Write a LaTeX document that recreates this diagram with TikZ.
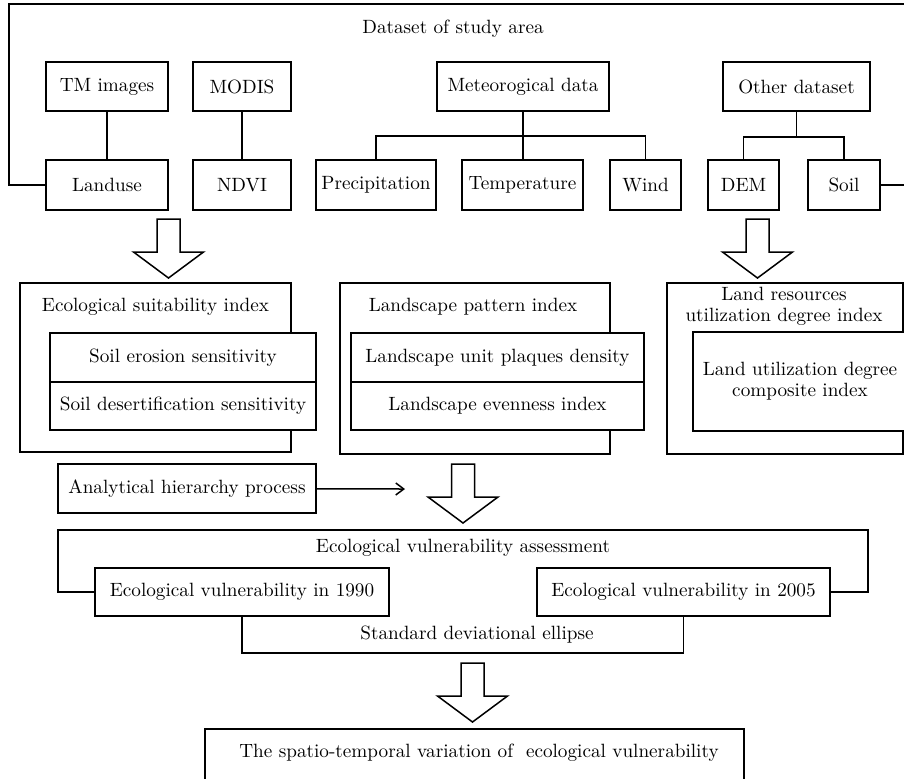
\documentclass[tikz,border=0pt]{standalone}
\usepackage{tikz}
\usetikzlibrary{positioning, calc, arrows.meta}

\begin{document}
\begin{tikzpicture}[x=0.5pt, y=-0.5pt, line width=0.75pt,
    every node/.style={font=\fontsize{9.6}{10.5}\selectfont},
    box/.style={draw, fill=white, inner sep=0pt, align=center},
    boxtitle/.style={inner sep=0pt, align=center},
    bigarrow/.pic={\draw[line join=miter] (-11.5,0) -- (11.5,0) -- (11.5,33) -- (35,33) -- (0,59) -- (-35,33) -- (-11.5,33) -- cycle;}]
    \clip (0,0) rectangle (904,778);

    % 1. Dataset of study area
    \node[boxtitle] (dataset) at (453,29) {Dataset of study area};

    % first row of sources
    \node[box, minimum width=61pt, minimum height=24.5pt] (tm) at (107,86.5) {TM images};
    \node[box, minimum width=49pt, minimum height=24.5pt] (modis) at (242,86.5) {MODIS};
    \node[box, minimum width=86pt, minimum height=24.5pt] (met) at (523,86.5) {Meteorogical data};
    \node[box, minimum width=73.5pt, minimum height=24.5pt] (other) at (796.5,86.5) {Other dataset};

    % second row of data
    \node[box, minimum width=61pt, minimum height=25pt] (landuse) at (107,185) {Landuse};
    \node[box, minimum width=49pt, minimum height=25pt] (ndvi) at (242,185) {NDVI};
    \node[box, minimum width=60pt, minimum height=25pt] (precip) at (376,185) {Precipitation};
    \node[box, minimum width=60.5pt, minimum height=25pt] (temp) at (522.5,185) {Temperature};
    \node[box, minimum width=35.5pt, minimum height=25pt] (wind) at (645.5,185) {Wind};
    \node[box, minimum width=35.5pt, minimum height=25pt] (dem) at (743.5,185) {DEM};
    \node[box, minimum width=36pt, minimum height=25pt] (soil) at (844,185) {Soil};

    % bus points and frame corners
    \coordinate (metbus) at (523,136);
    \coordinate (otherbus) at (796.5,137);
    \coordinate (fbl) at (9,185);
    \coordinate (ftl) at (9,4);
    \coordinate (ftr) at (906,4);
    \coordinate (fbr) at (906,185);

    \draw (tm) -- (landuse);
    \draw (modis) -- (ndvi);
    \draw (met.south) -- (met.south |- temp.north);
    \draw (precip) |- (metbus) -| (wind);
    \draw (other) -- (otherbus);
    \draw (dem) |- (otherbus) -| (soil);
    \draw (landuse) -- (fbl) -- (ftl) -- (ftr) -- (fbr) -- (soil);

    % 2. Indexes
    \pic at (168.5,219) {bigarrow};
    \pic at (757.5,219) {bigarrow};

    \node[box, minimum width=135.5pt, minimum height=84.5pt] (esi) at (155.5,367.5) {};
    \node[boxtitle] (esititle) at (155.5,307) {Ecological suitability index};
    \node[box, minimum width=133pt, minimum height=24.5pt] (erosion) at (183,357.5) {Soil erosion sensitivity};
    \node[box, minimum width=133pt, minimum height=24pt] (desert) at (183,406) {Soil desertification sensitivity};

    \node[box, minimum width=135pt, minimum height=85.5pt] (lpi) at (475,368.5) {};
    \node[boxtitle] (lpititle) at (473,307) {Landscape pattern index};
    \node[box, minimum width=146.5pt, minimum height=24.5pt] (density) at (497.5,357.5) {Landscape unit plaques density};
    \node[box, minimum width=146.5pt, minimum height=24pt] (evenness) at (497.5,406) {Landscape evenness index};

    \node[box, minimum width=118pt, minimum height=85.5pt] (lru) at (785,368.5) {};
    \node[boxtitle] (lrutitle) at (784,306.5) {Land resources\\utilization degree index};
    \node[box, minimum width=107pt, minimum height=49.5pt] (composite) at (800,381.5) {Land utilization degree\\composite index};

    % 3. Assessment
    \node[box, minimum width=129pt, minimum height=24.5pt] (ahp) at (187,488.5) {Analytical hierarchy process};
    \coordinate (ahpend) at (405,489);
    \draw[-{Straight Barb[length=4pt,width=6pt]}] (ahp) -- (ahpend);
    \pic at (463,464) {bigarrow};

    \node[boxtitle] (evatitle) at (463,548) {Ecological vulnerability assessment};
    \node[box, minimum width=147pt, minimum height=24pt] (e1990) at (242,592) {Ecological vulnerability in 1990};
    \node[box, minimum width=146.5pt, minimum height=24pt] (e2005) at (683.5,592) {Ecological vulnerability in 2005};
    \coordinate (evabl) at (58,592);
    \coordinate (evatl) at (58,530);
    \coordinate (evatr) at (868,530);
    \coordinate (evabr) at (868,592);
    \draw (e1990) -- (evabl) -- (evatl) -- (evatr) -- (evabr) -- (e2005);

    \coordinate (sdebase) at (463,653);
    \draw (e1990.south) |- (sdebase) -| (e2005.south);
    \node[boxtitle] (sde) at (477,635) {Standard deviational ellipse};

    % 4. Result
    \pic at (472.5,663) {bigarrow};
    \node[box, minimum width=269.5pt, minimum height=30.5pt] (result) at (474.5,759.5) {};
    \node[boxtitle] (resulttext) at (479,753) {The spatio-temporal variation of~ ecological vulnerability};
\end{tikzpicture}
\end{document}
